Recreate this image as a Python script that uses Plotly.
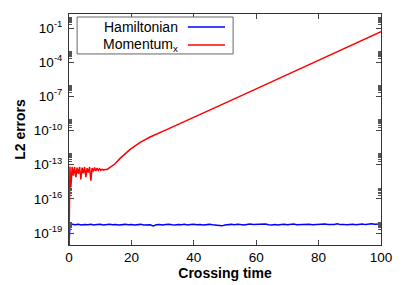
import plotly.graph_objects as go

# ---- data (log10 of L2 errors) ----
red_t = [0, 0.25, 0.3, 0.6, 1.0, 1.4, 1.8, 2.2, 2.6, 3.0, 3.4, 3.8, 4.2, 4.6, 5.0, 5.4, 5.8,
         6.2, 6.6, 7.0, 7.4, 7.8, 8.2, 8.6, 9.0, 9.4, 9.8, 10.2, 10.6, 11.0, 11.5, 12.2, 13.1,
         14.7, 16.3, 19.5, 22.8, 26.0, 31.3, 36.6, 41.4, 50.0, 60.0, 70.0, 80.0, 90.0, 100.0]
red_log = [-20.2, -16.5, -13.15, -15.0, -13.2, -13.95, -13.2, -14.1, -13.25, -13.8, -13.2,
           -14.3, -13.25, -13.75, -13.2, -14.1, -13.3, -13.7, -13.2, -14.4, -13.3, -13.6,
           -13.25, -13.55, -13.3, -13.5, -13.35, -13.5, -13.4, -13.48, -13.42, -13.42, -13.24,
           -12.94, -12.47, -11.68, -11.04, -10.57, -9.92, -9.28, -8.68, -7.60, -6.34, -5.09,
           -3.83, -2.58, -1.32]

blue_t = [0, 0.3, 1, 2, 3, 4, 5, 6, 7, 8, 9, 10, 11, 12, 13, 14, 15, 16, 17, 18, 19, 20, 21, 22,
          23, 24, 25, 26, 27, 28, 29, 30, 31, 32, 33, 34, 35, 36, 37, 38, 39, 40, 41, 42, 43, 44,
          45, 46, 47, 48, 49, 50, 51, 52, 53, 54, 55, 56, 57, 58, 59, 60, 61, 62, 63, 64, 65, 66,
          67, 68, 69, 70, 71, 72, 73, 74, 75, 76, 77, 78, 79, 80, 81, 82, 83, 84, 85, 86, 87, 88,
          89, 90, 91, 92, 93, 94, 95, 96, 97, 98, 99, 100]
blue_log = [-20.2, -18.2, -18.22, -18.28, -18.24, -18.3, -18.25, -18.27, -18.22, -18.29, -18.26,
            -18.24, -18.3, -18.26, -18.23, -18.28, -18.25, -18.3, -18.27, -18.24, -18.28, -18.25,
            -18.3, -18.27, -18.24, -18.29, -18.31, -18.27, -18.38, -18.28, -18.25, -18.3, -18.26,
            -18.23, -18.27, -18.3, -18.25, -18.28, -18.24, -18.3, -18.26, -18.22, -18.27, -18.25,
            -18.3, -18.26, -18.24, -18.28, -18.3, -18.33, -18.37, -18.29, -18.26, -18.24, -18.28,
            -18.22, -18.26, -18.29, -18.25, -18.21, -18.26, -18.24, -18.28, -18.25, -18.2, -18.27,
            -18.3, -18.26, -18.29, -18.25, -18.23, -18.28, -18.24, -18.2, -18.27, -18.25, -18.29,
            -18.24, -18.22, -18.27, -18.25, -18.29, -18.24, -18.21, -18.26, -18.28, -18.24, -18.19,
            -18.26, -18.24, -18.28, -18.25, -18.22, -18.27, -18.24, -18.2, -18.26, -18.22, -18.18,
            -18.22, -18.19, -18.2]

ytick_exp = [-1, -4, -7, -10, -13, -16, -19]
xtick_vals = [0, 20, 40, 60, 80, 100]

FONT = "Liberation Sans, Arial, sans-serif"

fig = go.Figure()
fig.add_trace(go.Scatter(x=blue_t, y=[10 ** v for v in blue_log], mode="lines",
                         line=dict(color="#0000ff", width=1.5), name="Hamiltonian",
                         showlegend=False))
fig.add_trace(go.Scatter(x=red_t, y=[10 ** v for v in red_log], mode="lines",
                         line=dict(color="#ff0000", width=1.5), name="Momentum<sub>x</sub>",
                         showlegend=False))

minor_vals = [m * 10.0 ** e for e in ytick_exp for m in range(2, 10)]

# page body has an 8px default margin, so margins are shifted accordingly
fig.update_layout(
    width=407, height=285,
    margin=dict(l=61, r=34, t=6, b=48),
    paper_bgcolor="white", plot_bgcolor="white",
    font=dict(family=FONT, size=13, color="black"),
    xaxis=dict(range=[0, 100], tickvals=xtick_vals, ticks="inside", ticklen=5,
               showline=True, mirror="ticks", linecolor="#333", linewidth=1,
               showgrid=False, zeroline=False, tickfont=dict(size=13.5),
               title=dict(text="<b>Crossing time</b>", standoff=1, font=dict(size=14))),
    yaxis=dict(type="log", range=[-20.05, 0.23],
               tickvals=[10.0 ** e for e in ytick_exp],
               ticktext=[f"10<sup>{e}</sup>" for e in ytick_exp],
               ticks="inside", ticklen=5, ticklabelstandoff=3, tickfont=dict(size=13.5),
               minor=dict(tickvals=minor_vals, ticks="inside", ticklen=3, tickcolor="#555"),
               showline=True, mirror="ticks", linecolor="#333", linewidth=1,
               showgrid=False, zeroline=False,
               title=dict(text="<b>L2 errors</b>", standoff=4, font=dict(size=14))),
)

# gnuplot-style legend: text then line sample, inside a box
fig.add_shape(type="rect", xref="paper", yref="paper", x0=0.026, x1=0.526, y0=0.827, y1=0.987,
              line=dict(color="#666", width=1), fillcolor="white")
for label, color, yy in [("Hamiltonian", "#0000ff", 0.944), ("Momentum<sub>x</sub>", "#ff0000", 0.866)]:
    fig.add_annotation(x=0.355, y=yy, xref="paper", yref="paper", text=label, showarrow=False,
                       xanchor="right", yanchor="middle", font=dict(size=14, family=FONT))
    fig.add_shape(type="line", xref="paper", yref="paper", x0=0.381, x1=0.5, y0=yy, y1=yy,
                  line=dict(color=color, width=1.5))

fig.write_html("out.html")
